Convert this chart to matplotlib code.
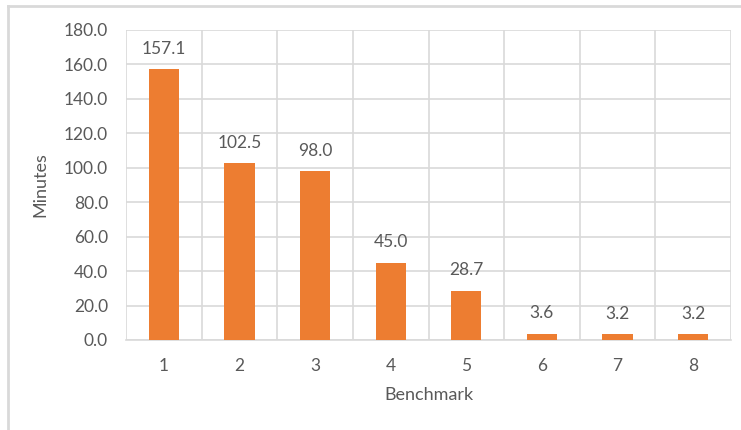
import matplotlib.pyplot as plt
from matplotlib.lines import Line2D

benchmarks = ["1", "2", "3", "4", "5", "6", "7", "8"]
minutes = [157.1, 102.5, 98.0, 45.0, 28.7, 3.6, 3.2, 3.2]

plt.rcParams["font.family"] = ["Lato", "DejaVu Sans"]
text_color = "#595959"
grid_color = "#D9D9D9"

fig = plt.figure(figsize=(7.41, 4.30), dpi=100)
ax = fig.add_axes([126 / 741, 1 - 340 / 430, 605 / 741, 310 / 430])

x = range(len(benchmarks))
bars = ax.bar(x, minutes, width=0.4, color="#ED7D31", zorder=3)
for b, v in zip(bars, minutes):
    ax.annotate(f"{v:.1f}", (b.get_x() + b.get_width() / 2, v),
                xytext=(0, 9), textcoords="offset points",
                ha="center", va="bottom", fontsize=12.5, color=text_color)

ax.set_xlim(-0.5, len(benchmarks) - 0.5)
ax.set_ylim(0, 180)
ax.set_yticks(range(0, 181, 20))
ax.set_yticklabels([f"{t:.1f}" for t in range(0, 181, 20)])
ax.set_xticks(list(x))
ax.set_xticklabels(benchmarks)

# gridlines between categories and at each major y tick
ax.set_xticks([i + 0.5 for i in range(-1, len(benchmarks))], minor=True)
ax.grid(True, axis="y", color=grid_color, linewidth=1.2, zorder=0)
ax.grid(True, axis="x", which="minor", color=grid_color, linewidth=1.2, zorder=0)
ax.tick_params(axis="both", which="both", length=0, colors=text_color, labelsize=12.5)
ax.tick_params(axis="x", pad=13)
ax.tick_params(axis="y", pad=13)

for s in ["top", "right", "left"]:
    ax.spines[s].set_visible(False)
ax.spines["bottom"].set_color(grid_color)
ax.spines["bottom"].set_linewidth(1.2)

ax.set_xlabel("Benchmark", fontsize=13, color=text_color, labelpad=9)
ax.set_ylabel("Minutes", fontsize=13, color=text_color, labelpad=11)

# chart area border (top and left edges)
fig.add_artist(Line2D([8 / 741, 1], [1 - 6 / 430, 1 - 6 / 430], color=grid_color, lw=2))
fig.add_artist(Line2D([8 / 741, 8 / 741], [0, 1 - 6 / 430], color=grid_color, lw=2))

fig.savefig("out.png", dpi=100)
